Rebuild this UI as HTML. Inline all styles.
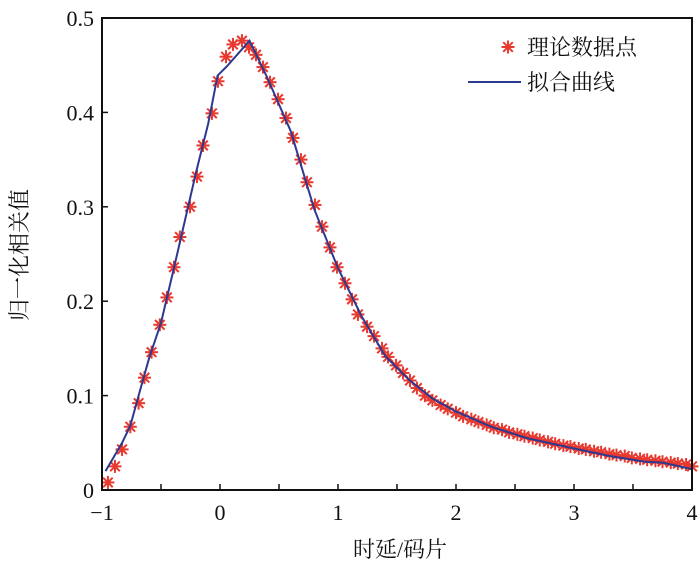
<!DOCTYPE html>
<html><head><meta charset="utf-8"><style>
body{margin:0;background:#fff;}
svg text{font-family:"Liberation Serif","Noto Serif CJK SC",serif;fill:#111;}
</style></head><body>
<svg id="chart" width="700" height="568" xmlns="http://www.w3.org/2000/svg">
<g id="marks"></g>
<g id="axes"></g>
</svg>
<script>
const xTicks=[-1,0,1,2,3,4];
const xTickLabels=["\u22121","0","1","2","3","4"];
const yTicks=[0,0.1,0.2,0.3,0.4,0.5];
const yTickLabels=["0","0.1","0.2","0.3","0.4","0.5"];
const dataX=[-0.95,-0.89,-0.83,-0.76,-0.69,-0.64,-0.58,-0.51,-0.45,-0.39,-0.34,-0.254,-0.195,-0.144,-0.068,-0.017,0.051,0.11,0.186,0.246,0.305,0.364,0.424,0.492,0.559,0.619,0.686,0.737,0.805,0.864,0.932,0.992,1.059,1.119,1.169,1.246,1.305,1.373,1.424,1.492,1.551,1.61,1.669,1.737,1.8,1.87,1.93,2.0,2.06,2.13,2.19,2.26,2.32,2.39,2.45,2.52,2.58,2.65,2.71,2.78,2.84,2.91,2.97,3.04,3.1,3.17,3.23,3.3,3.36,3.43,3.49,3.56,3.62,3.69,3.75,3.82,3.88,3.95,4.0];
const dataY=[0.008,0.025,0.043,0.067,0.092,0.119,0.146,0.175,0.204,0.236,0.268,0.3,0.332,0.365,0.399,0.433,0.459,0.472,0.476,0.469,0.461,0.448,0.432,0.414,0.394,0.373,0.35,0.326,0.302,0.279,0.257,0.236,0.219,0.202,0.186,0.173,0.163,0.15,0.141,0.132,0.124,0.116,0.108,0.1,0.095,0.09,0.086,0.082,0.078,0.075,0.072,0.069,0.066,0.064,0.061,0.059,0.057,0.055,0.053,0.051,0.049,0.047,0.046,0.044,0.043,0.041,0.04,0.038,0.037,0.036,0.034,0.033,0.032,0.031,0.03,0.029,0.028,0.027,0.025];
const fitX=[-0.97,-0.9,-0.83,-0.76,-0.69,-0.6,-0.5,-0.4,-0.3,-0.2,-0.1,-0.02,0.06,0.25,0.4,0.6,0.8,1.0,1.2,1.4,1.6,1.8,2.0,2.3,2.6,3.0,3.3,3.6,3.75,4.0];
const fitY=[0.02,0.035,0.05,0.068,0.1,0.14,0.177,0.23,0.284,0.338,0.388,0.439,0.449,0.476,0.437,0.38,0.297,0.235,0.184,0.142,0.117,0.097,0.083,0.067,0.055,0.044,0.036,0.03,0.029,0.022];

const L=102,R=692,T=18,B=490;
function sx(v){return L+(v+1)/5*(R-L);}
function sy(v){return B-v/0.5*(B-T);}
const NS="http://www.w3.org/2000/svg";
function mk(tag,attrs,parent){const e=document.createElementNS(NS,tag);for(const k in attrs)e.setAttribute(k,attrs[k]);parent.appendChild(e);return e;}
const marks=document.getElementById('marks');
const axes=document.getElementById('axes');
function star(cx,cy,parent){
  const g=mk('g',{stroke:'#e8392f','stroke-width':2},parent);
  const r=6.5,d=4.8;
  mk('line',{x1:cx-r,y1:cy,x2:cx+r,y2:cy},g);
  mk('line',{x1:cx,y1:cy-r,x2:cx,y2:cy+r},g);
  mk('line',{x1:cx-d,y1:cy-d,x2:cx+d,y2:cy+d},g);
  mk('line',{x1:cx-d,y1:cy+d,x2:cx+d,y2:cy-d},g);
  return g;
}
dataX.forEach((x,i)=>{
  const g=star(sx(x),sy(dataY[i]),marks);
  
  
});
const pts=fitX.map((x,i)=>sx(x).toFixed(1)+','+sy(fitY[i]).toFixed(1)).join(' ');
const fl=mk('polyline',{points:pts,fill:'none',stroke:'#2b3990','stroke-width':2},marks);



const frame=mk('rect',{x:L,y:T,width:R-L,height:B-T,fill:'none',stroke:'#111','stroke-width':2},axes);


xTicks.forEach((v,i)=>{
  mk('line',{x1:sx(v),y1:B,x2:sx(v),y2:B-6,stroke:'#111','stroke-width':1.5},axes);
  if(i<xTicks.length-1){const m=sx(v+0.5);mk('line',{x1:m,y1:B,x2:m,y2:B-6,stroke:'#111','stroke-width':1.5},axes);}
  const t=mk('text',{x:sx(v),y:B+30,'text-anchor':'middle','font-size':22},axes);
  t.textContent=xTickLabels[i];
  
  
});
yTicks.forEach((v,i)=>{
  mk('line',{x1:L,y1:sy(v),x2:L+6,y2:sy(v),stroke:'#111','stroke-width':1.5},axes);
  const t=mk('text',{x:L-8,y:sy(v)+8,'text-anchor':'end','font-size':22},axes);
  t.textContent=yTickLabels[i];
  
  
});
const xl=mk('text',{x:400,y:557,'text-anchor':'middle','font-size':22},axes);
xl.textContent='时延/码片';


const yl=mk('text',{x:0,y:0,'text-anchor':'middle','font-size':22,transform:'translate(27,255) rotate(-90)'},axes);
yl.textContent='归一化相关值';


const lg=mk('g',{},axes);


const ls=star(508,47,lg);


const lt1=mk('text',{x:527,y:55,'font-size':22},lg);
lt1.textContent='理论数据点';


const ll=mk('line',{x1:468,y1:82,x2:521,y2:82,stroke:'#2b3990','stroke-width':2},lg);


const lt2=mk('text',{x:527,y:90,'font-size':22},lg);
lt2.textContent='拟合曲线';


</script>
</body></html>
